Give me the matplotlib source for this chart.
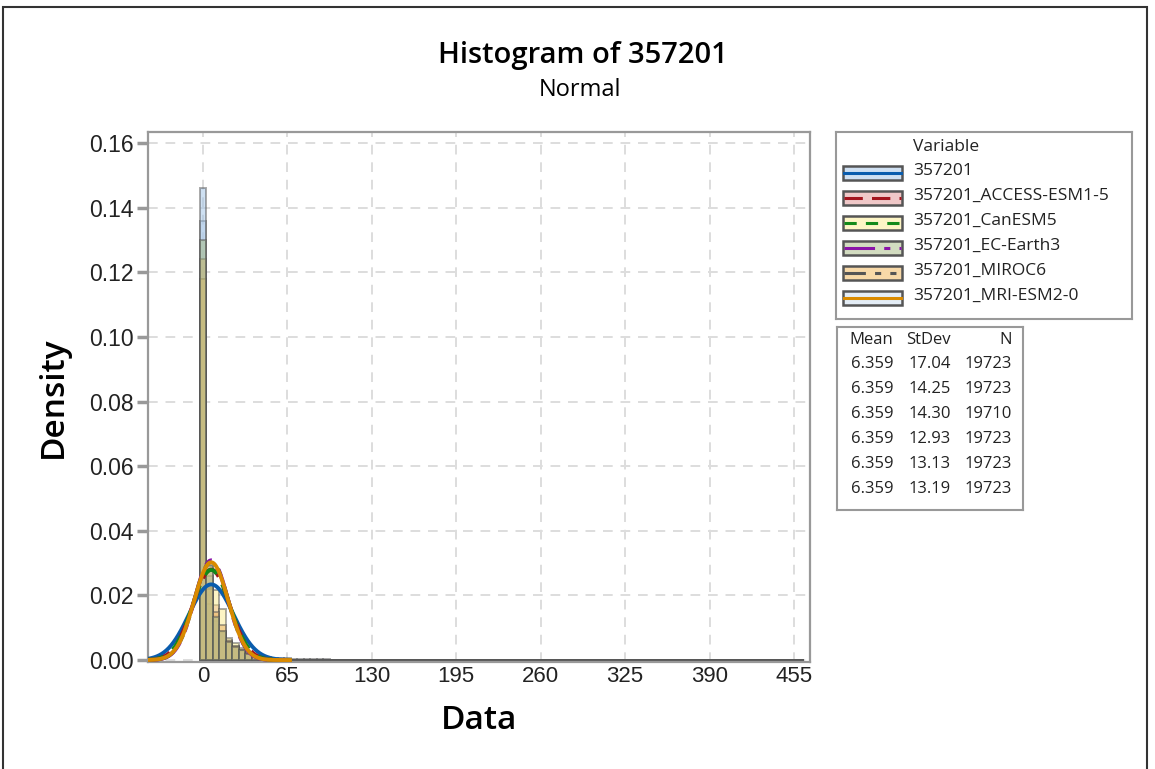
import numpy as np
import matplotlib
matplotlib.use("Agg")
from matplotlib import pyplot as plt
from matplotlib.patches import Rectangle
from matplotlib.lines import Line2D

# series info
names = ["357201", "357201_ACCESS-ESM1-5", "357201_CanESM5",
         "357201_EC-Earth3", "357201_MIROC6", "357201_MRI-ESM2-0"]
means = [6.359, 6.359, 6.359, 6.359, 6.359, 6.359]
stdevs = [17.04, 14.25, 14.30, 12.93, 13.13, 13.19]
counts = [19723, 19723, 19710, 19723, 19723, 19723]

# bin midpoints (width 5) and densities
bin_width = 5
bin_mids = list(range(0, 465, 5))
dens_obs = [0.146, 0.0175, 0.0135, 0.0088, 0.0057, 0.0041, 0.0028, 0.0020, 0.0015,
            0.0011, 0.0008, 0.0006, 0.0005, 0.0005, 0.0004, 0.0004, 0.0003, 0.0003,
            0.0003, 0.0002]
dens_access = [0.118, 0.0227, 0.0170, 0.0090, 0.0062, 0.0045, 0.0030, 0.0018, 0.0011,
               0.0007, 0.0005, 0.0004, 0.0003, 0.0002]
dens_can = [0.118, 0.0220, 0.0217, 0.0158, 0.0068, 0.0053, 0.0037, 0.0022, 0.0012,
            0.0008, 0.0005, 0.0003, 0.0002]
dens_ec = [0.130, 0.0294, 0.0134, 0.0090, 0.0055, 0.0040, 0.0030, 0.0020, 0.0010,
           0.0006, 0.0004, 0.0003]
dens_miroc = [0.124, 0.0290, 0.0150, 0.0108, 0.0060, 0.0045, 0.0030, 0.0022, 0.0012,
              0.0007, 0.0004, 0.0003]
dens_mri = [0.136, 0.0260, 0.0120, 0.0088, 0.0057, 0.0041, 0.0028, 0.0020, 0.0012,
            0.0007, 0.0005, 0.0003]
densities = [dens_obs, dens_access, dens_can, dens_ec, dens_miroc, dens_mri]

# legend swatch colours and the deeper tones used (half transparent) for the bars
fills = ["#cfe0f2", "#f0c8c8", "#fdf5c5", "#d2dcc0", "#f8d9a8", "#e4edf6"]
bar_fills = ["#9fc2e6", "#e19191", "#fbeb8b", "#a5b981", "#eab060", "#c9dbed"]
draw_order = [5, 0, 1, 2, 4, 3]
line_colors = ["#0a5cad", "#a3141e", "#138a1a", "#8a14a8", "#555555", "#d98a00"]
line_styles = ["-", (0, (6, 3)), (0, (4, 3)), (0, (10, 3, 2, 3)),
               (0, (7, 3, 2, 3, 2, 3)), "-"]

W, H = 1155, 769
fig = plt.figure(figsize=(W / 100, H / 100), dpi=100)

def fx(px):
    return px / W

def fy(py):
    return 1 - py / H

ax = fig.add_axes([fx(148), fy(662), fx(810) - fx(148), fy(132) - fy(662)])

for k, i in enumerate(draw_order):
    d = densities[i] + [0.0] * (len(bin_mids) - len(densities[i]))
    ax.bar(bin_mids, d, width=bin_width, color=bar_fills[i], alpha=0.5,
           edgecolor="#555555", linewidth=1.4, zorder=2 + k * 0.01)

xs = np.linspace(-42, 67, 300)
for i in range(6):
    pdf = np.exp(-0.5 * ((xs - means[i]) / stdevs[i]) ** 2) / (stdevs[i] * np.sqrt(2 * np.pi))
    ax.plot(xs, pdf, color=line_colors[i], linestyle=line_styles[i], lw=2.8, zorder=3 + i * 0.01)

ax.set_xlim(-42.3, 467.3)
ax.set_ylim(-0.0006, 0.1634)
ax.set_xticks([0, 65, 130, 195, 260, 325, 390, 455])
ax.set_yticks([0.0, 0.02, 0.04, 0.06, 0.08, 0.10, 0.12, 0.14, 0.16])
ax.set_yticklabels(["0.00", "0.02", "0.04", "0.06", "0.08", "0.10", "0.12", "0.14", "0.16"])
ax.grid(True, color="#dddddd", linestyle=(0, (5, 4)), linewidth=1.4, zorder=0)
ax.set_axisbelow(True)
for s in ax.spines.values():
    s.set_color("#999999")
    s.set_linewidth(1.6)
ax.tick_params(axis="y", length=8, width=2.5, color="#999999", labelsize=16.5, pad=2)
ax.tick_params(axis="x", length=0, labelsize=16, pad=3)
for lab in ax.get_xticklabels() + ax.get_yticklabels():
    lab.set_family("Liberation Sans")
    lab.set_color("#222222")

ax.set_xlabel("Data", fontsize=24, family="Open Sans", fontweight="semibold", labelpad=12)
ax.set_ylabel("Density", fontsize=24, family="Open Sans", fontweight="semibold", labelpad=14)

fig.text(fx(583), fy(55), "Histogram of 357201", ha="center", va="center",
         fontsize=21, family="Open Sans", fontweight="semibold")
fig.text(fx(580), fy(90), "Normal", ha="center", va="center",
         fontsize=17, family="Open Sans")

# legend box
lg = fig.add_axes([fx(836), fy(319), fx(1132) - fx(836), fy(132) - fy(319)])
lg.set_xlim(836, 1132)
lg.set_ylim(319, 132)
lg.set_xticks([])
lg.set_yticks([])
for s in lg.spines.values():
    s.set_color("#999999")
    s.set_linewidth(1.5)
lg.text(913, 147, "Variable", va="center", fontsize=12.5, family="Open Sans", color="#222222")
row_y = [173, 198, 223, 248, 273, 298]
for i in range(6):
    y = row_y[i]
    lg.add_patch(Rectangle((843, y - 7), 59, 14, facecolor=fills[i],
                           edgecolor="#555555", linewidth=1.8))
    lg.add_line(Line2D([844, 901], [y, y], color=line_colors[i],
                       linestyle=line_styles[i], lw=2.2))
    lg.text(913, y - 2, names[i], va="center", fontsize=12.5, family="Open Sans", color="#222222")

# stats table
tb = fig.add_axes([fx(837), fy(510), fx(1023) - fx(837), fy(327) - fy(510)])
tb.set_xlim(837, 1023)
tb.set_ylim(510, 327)
tb.set_xticks([])
tb.set_yticks([])
for s in tb.spines.values():
    s.set_color("#999999")
    s.set_linewidth(1.5)
hdr_y = 340
for txt, x in [("Mean", 893), ("StDev", 951), ("N", 1012)]:
    tb.text(x, hdr_y, txt, ha="right", va="center", fontsize=12, family="Open Sans", color="#222222")
tab_y = [364, 389, 414, 439, 464, 489]
for i in range(6):
    tb.text(893, tab_y[i], f"{means[i]:.3f}", ha="right", va="center", fontsize=12,
            family="Open Sans", color="#222222")
    tb.text(951, tab_y[i], f"{stdevs[i]:.2f}", ha="right", va="center", fontsize=12,
            family="Open Sans", color="#222222")
    tb.text(1012, tab_y[i], str(counts[i]), ha="right", va="center", fontsize=12,
            family="Open Sans", color="#222222")

# outer frame
fig.patches.append(Rectangle((fx(3), -0.01), fx(1147) - fx(3), fy(7) + 0.01,
                             transform=fig.transFigure, fill=False,
                             edgecolor="#333333", linewidth=1.5))

fig.savefig("out.png", dpi=100)
